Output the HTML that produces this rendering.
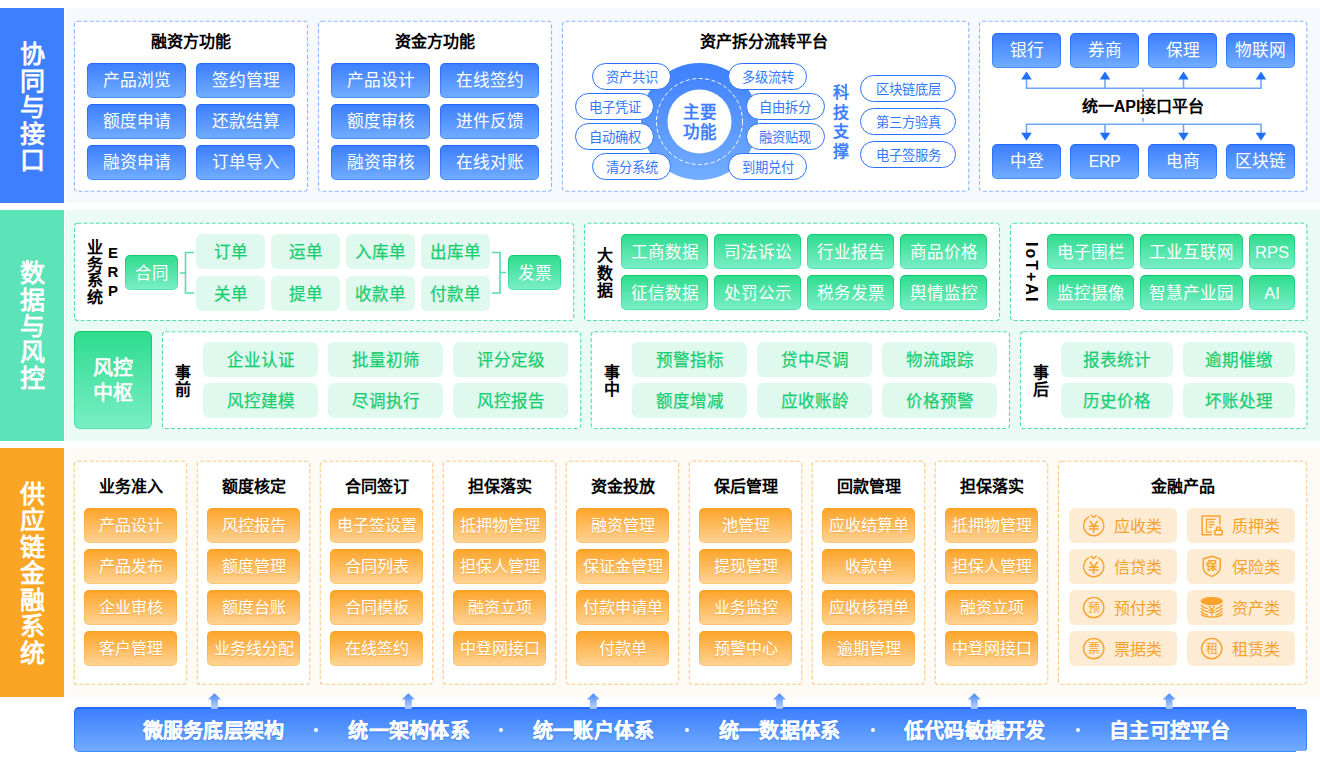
<!DOCTYPE html>
<html lang="zh-CN"><head><meta charset="utf-8"><title>供应链金融系统架构</title>
<style>
*{box-sizing:border-box;margin:0;padding:0}
html,body{width:1320px;height:764px;overflow:hidden;background:#fff}
body{position:relative;font-family:"Liberation Sans",sans-serif;color:#000}
.abs{position:absolute}
.band{position:absolute;left:65px;right:0}
.side{position:absolute;left:0;width:64px;color:#fff;font-weight:bold;font-size:25px;line-height:26.5px;padding-top:4px;display:flex;align-items:center;justify-content:center}
.side span{display:block;width:26px;text-align:center;word-break:break-all}
svg{position:absolute;left:0;top:0;overflow:visible}
.ttl{position:absolute;font-weight:bold;font-size:16px;line-height:20px;text-align:center;white-space:nowrap;color:#000}
.b{position:absolute;border-radius:5px;border:1px solid transparent;color:#fff;text-align:center;white-space:nowrap;overflow:hidden}
.bb{height:35px;line-height:34px;font-size:16.7px;background:linear-gradient(#3d7fff,#70acff) padding-box,linear-gradient(#1f69ff,#4690ff) border-box}
.gb{height:35px;line-height:35px;font-size:16.5px;background:linear-gradient(#2fdc8e,#79eec6) padding-box,linear-gradient(#0fca69,#55e5b0) border-box}
.lg{position:absolute;height:35px;line-height:36px;font-size:16.5px;border-radius:6px;background:#dff9ef;color:#17cd70;-webkit-text-stroke:.25px #17cd70;text-align:center;white-space:nowrap}
.ob{height:35px;line-height:33px;font-size:16px;background:linear-gradient(#fda52b,#fdd292) padding-box,linear-gradient(#fb9f1f,#fdc878) border-box;text-shadow:0 1px 1px rgba(235,140,20,.45)}
.pill{position:absolute;height:27px;line-height:27px;border:1px solid #2b71ff;border-radius:14px;background:#fff;color:#3278ff;font-size:13.3px;overflow:hidden;text-align:center;white-space:nowrap}
.vt{position:absolute;font-weight:bold;text-align:center;word-break:break-all;color:#000}
.fp{position:absolute;height:35px;border-radius:6px;background:#feebd3;color:#f5a22c;font-size:16px;line-height:37px;white-space:nowrap}
.fp span{position:absolute;left:45px;top:0}
.bar{position:absolute;color:#fff;font-weight:bold;font-size:20px;line-height:28px;white-space:nowrap;letter-spacing:.3px;-webkit-text-stroke:.3px #fff;text-shadow:0 1px 2px rgba(30,90,230,.45)}
</style></head><body>
<div class="band" style="top:8px;height:195px;background:#f6faff"></div>
<div class="side" style="top:8px;height:195px;background:#3d7fff"><span>协同与接口</span></div>
<svg width="1320" height="764">
<rect x="74.50" y="21.25" width="233.00" height="170.00" rx="3" fill="#fff" stroke="#8fb7ff" stroke-width="1.1" stroke-dasharray="4 2.1"/>
<rect x="318.50" y="21.25" width="233.00" height="170.00" rx="3" fill="#fff" stroke="#8fb7ff" stroke-width="1.1" stroke-dasharray="4 2.1"/>
<rect x="562.50" y="21.25" width="406.25" height="170.00" rx="3" fill="#fff" stroke="#8fb7ff" stroke-width="1.1" stroke-dasharray="4 2.1"/>
<rect x="979.50" y="21.25" width="327.25" height="170.00" rx="3" fill="#fff" stroke="#8fb7ff" stroke-width="1.1" stroke-dasharray="4 2.1"/>
</svg>
<div class="ttl" style="left:74px;width:234px;top:32px">融资方功能</div>
<div class="b bb" style="left:87px;top:63px;width:99px">产品浏览</div>
<div class="b bb" style="left:196px;top:63px;width:99px">签约管理</div>
<div class="b bb" style="left:87px;top:104px;width:99px">额度申请</div>
<div class="b bb" style="left:196px;top:104px;width:99px">还款结算</div>
<div class="b bb" style="left:87px;top:145px;width:99px">融资申请</div>
<div class="b bb" style="left:196px;top:145px;width:99px">订单导入</div>
<div class="ttl" style="left:318px;width:234px;top:32px">资金方功能</div>
<div class="b bb" style="left:331px;top:63px;width:99px">产品设计</div>
<div class="b bb" style="left:440px;top:63px;width:99px">在线签约</div>
<div class="b bb" style="left:331px;top:104px;width:99px">额度审核</div>
<div class="b bb" style="left:440px;top:104px;width:99px">进件反馈</div>
<div class="b bb" style="left:331px;top:145px;width:99px">融资审核</div>
<div class="b bb" style="left:440px;top:145px;width:99px">在线对账</div>
<div class="ttl" style="left:664px;width:200px;top:32px">资产拆分流转平台</div>
<svg width="1320" height="764"><defs><linearGradient id="gw" x1="0" y1="0" x2="0" y2="1"><stop offset="0" stop-color="#3d7fff"/><stop offset="1" stop-color="#73aeff"/></linearGradient></defs><circle cx="699.5" cy="121.5" r="58.5" fill="url(#gw)"/><circle cx="699.5" cy="121.5" r="43" fill="none" stroke="#fff" stroke-width="1" stroke-dasharray="4 2.5"/><circle cx="699.5" cy="121.5" r="32" fill="#fff"/></svg>
<div class="abs" style="left:667px;top:103px;width:65px;text-align:center;font-weight:bold;font-size:16.5px;line-height:19.5px;color:#3d7fff">主要<br>功能</div>
<div class="pill" style="left:592px;top:63px;width:79px">资产共识</div>
<div class="pill" style="left:575px;top:93px;width:79px">电子凭证</div>
<div class="pill" style="left:575px;top:123px;width:79px">自动确权</div>
<div class="pill" style="left:592px;top:153px;width:79px">清分系统</div>
<div class="pill" style="left:728px;top:63px;width:79px">多级流转</div>
<div class="pill" style="left:745.5px;top:93px;width:79px">自由拆分</div>
<div class="pill" style="left:745.5px;top:123px;width:79px">融资贴现</div>
<div class="pill" style="left:728px;top:153px;width:79px">到期兑付</div>
<div class="vt" style="left:833px;top:83px;width:16px;font-size:16px;line-height:19.5px;color:#3d7fff">科技支撑</div>
<div class="pill" style="left:860px;top:75px;width:96px">区块链底层</div>
<div class="pill" style="left:860px;top:108px;width:96px">第三方验真</div>
<div class="pill" style="left:860px;top:141px;width:96px">电子签服务</div>
<div class="b bb" style="left:992px;top:33px;width:69px">银行</div>
<div class="b bb" style="left:1070px;top:33px;width:69px">券商</div>
<div class="b bb" style="left:1148px;top:33px;width:69px">保理</div>
<div class="b bb" style="left:1226px;top:33px;width:69px">物联网</div>
<div class="b bb" style="left:992px;top:144px;width:69px">中登</div>
<div class="b bb" style="left:1070px;top:144px;width:69px"><span style="font-size:16px;letter-spacing:-.4px">ERP</span></div>
<div class="b bb" style="left:1148px;top:144px;width:69px">电商</div>
<div class="b bb" style="left:1226px;top:144px;width:69px">区块链</div>
<svg width="1320" height="764"><path d="M1026.5 79V88.25H1261V79M1105 79V88.25M1183.5 79V88.25M1026.5 133V124.25H1261V133M1105 133V124.25M1183.5 133V124.25" fill="none" stroke="#6ea6ff" stroke-width="1.6"/><path d="M1143 88V124" fill="none" stroke="#6ea6ff" stroke-width="1.4" stroke-dasharray="4 2"/><path d="M1026.5 71.5l5.3 8h-10.6z" fill="#1f6fff"/><path d="M1026.5 140.8l5.3-8h-10.6z" fill="#1f6fff"/><path d="M1105 71.5l5.3 8h-10.6z" fill="#1f6fff"/><path d="M1105 140.8l5.3-8h-10.6z" fill="#1f6fff"/><path d="M1183.5 71.5l5.3 8h-10.6z" fill="#1f6fff"/><path d="M1183.5 140.8l5.3-8h-10.6z" fill="#1f6fff"/><path d="M1261 71.5l5.3 8h-10.6z" fill="#1f6fff"/><path d="M1261 140.8l5.3-8h-10.6z" fill="#1f6fff"/></svg>
<div class="ttl" style="left:1078px;width:130px;top:97px;background:#fff">统一API接口平台</div>
<div class="band" style="top:210px;height:231px;background:#eafbf5"></div>
<div class="side" style="top:210px;height:231px;padding-top:1px;line-height:26.3px;background:#5ce3b8"><span>数据与风控</span></div>
<svg width="1320" height="764">
<rect x="74.50" y="223.25" width="499.25" height="97.25" rx="3" fill="#fff" stroke="#54ddb0" stroke-width="1.1" stroke-dasharray="4 2.1"/>
<rect x="584.50" y="223.25" width="415.00" height="97.25" rx="3" fill="#fff" stroke="#54ddb0" stroke-width="1.1" stroke-dasharray="4 2.1"/>
<rect x="1010.50" y="223.25" width="296.50" height="97.25" rx="3" fill="#fff" stroke="#54ddb0" stroke-width="1.1" stroke-dasharray="4 2.1"/>
<rect x="162.50" y="331.75" width="418.25" height="96.75" rx="3" fill="#fff" stroke="#54ddb0" stroke-width="1.1" stroke-dasharray="4 2.1"/>
<rect x="591.25" y="331.75" width="418.25" height="96.75" rx="3" fill="#fff" stroke="#54ddb0" stroke-width="1.1" stroke-dasharray="4 2.1"/>
<rect x="1020.50" y="331.75" width="286.50" height="96.75" rx="3" fill="#fff" stroke="#54ddb0" stroke-width="1.1" stroke-dasharray="4 2.1"/>
<path d="M180 273H185.5M194 252.5H185.5V293H194" fill="none" stroke="#54ddb0" stroke-width="1.6"/>
<path d="M492 252.5H500V293H492M500 272.5H506" fill="none" stroke="#54ddb0" stroke-width="1.6"/>
</svg>
<div class="vt" style="left:87px;top:240px;width:16px;font-size:16px;line-height:16.6px">业务系统</div>
<div class="vt" style="left:105px;top:244px;width:16px;font-size:15px;line-height:18.8px">ERP</div>
<div class="b gb" style="left:125px;top:255px;width:53px">合同</div>
<div class="lg" style="left:196px;top:234px;width:69px">订单</div>
<div class="lg" style="left:271px;top:234px;width:69px">运单</div>
<div class="lg" style="left:346px;top:234px;width:69px">入库单</div>
<div class="lg" style="left:421px;top:234px;width:69px">出库单</div>
<div class="lg" style="left:196px;top:276px;width:69px">关单</div>
<div class="lg" style="left:271px;top:276px;width:69px">提单</div>
<div class="lg" style="left:346px;top:276px;width:69px">收款单</div>
<div class="lg" style="left:421px;top:276px;width:69px">付款单</div>
<div class="b gb" style="left:508px;top:255px;width:53px">发票</div>
<div class="vt" style="left:597px;top:247px;width:16px;font-size:16px;line-height:17.5px">大数据</div>
<div class="b gb" style="left:621px;top:234px;width:87px">工商数据</div>
<div class="b gb" style="left:714px;top:234px;width:87px">司法诉讼</div>
<div class="b gb" style="left:807px;top:234px;width:87px">行业报告</div>
<div class="b gb" style="left:900px;top:234px;width:87px">商品价格</div>
<div class="b gb" style="left:621px;top:275px;width:87px">征信数据</div>
<div class="b gb" style="left:714px;top:275px;width:87px">处罚公示</div>
<div class="b gb" style="left:807px;top:275px;width:87px">税务发票</div>
<div class="b gb" style="left:900px;top:275px;width:87px">舆情监控</div>
<div class="abs" style="left:1001px;top:262px;width:60px;height:20px;line-height:20px;text-align:center;font-weight:bold;font-size:16px;letter-spacing:2px;transform:rotate(90deg);white-space:nowrap">IoT+AI</div>
<div class="b gb" style="left:1047px;top:234px;width:87px">电子围栏</div>
<div class="b gb" style="left:1140px;top:234px;width:103px">工业互联网</div>
<div class="b gb" style="left:1249px;top:234px;width:46px">RPS</div>
<div class="b gb" style="left:1047px;top:275px;width:87px">监控摄像</div>
<div class="b gb" style="left:1140px;top:275px;width:103px">智慧产业园</div>
<div class="b gb" style="left:1249px;top:275px;width:46px">AI</div>
<div class="b" style="left:74px;top:331px;width:78px;height:98px;border-radius:6px;font-weight:bold;font-size:20px;line-height:24.5px;padding-top:24px;background:linear-gradient(#2fdc8e,#79eec6) padding-box,linear-gradient(#0fca69,#55e5b0) border-box">风控<br>中枢</div>
<div class="vt" style="left:175px;top:364px;width:16px;font-size:16px;line-height:17px">事前</div>
<div class="lg" style="left:203px;top:342px;width:115px">企业认证</div>
<div class="lg" style="left:328px;top:342px;width:115px">批量初筛</div>
<div class="lg" style="left:453px;top:342px;width:115px">评分定级</div>
<div class="lg" style="left:203px;top:383px;width:115px">风控建模</div>
<div class="lg" style="left:328px;top:383px;width:115px">尽调执行</div>
<div class="lg" style="left:453px;top:383px;width:115px">风控报告</div>
<div class="vt" style="left:604px;top:364px;width:16px;font-size:16px;line-height:17px">事中</div>
<div class="lg" style="left:632px;top:342px;width:115px">预警指标</div>
<div class="lg" style="left:757px;top:342px;width:115px">贷中尽调</div>
<div class="lg" style="left:882px;top:342px;width:115px">物流跟踪</div>
<div class="lg" style="left:632px;top:383px;width:115px">额度增减</div>
<div class="lg" style="left:757px;top:383px;width:115px">应收账龄</div>
<div class="lg" style="left:882px;top:383px;width:115px">价格预警</div>
<div class="vt" style="left:1033px;top:364px;width:16px;font-size:16px;line-height:17px">事后</div>
<div class="lg" style="left:1061px;top:342px;width:112px">报表统计</div>
<div class="lg" style="left:1183px;top:342px;width:112px">逾期催缴</div>
<div class="lg" style="left:1061px;top:383px;width:112px">历史价格</div>
<div class="lg" style="left:1183px;top:383px;width:112px">坏账处理</div>
<div class="band" style="top:448px;height:249px;background:#fefbf6"></div>
<div class="side" style="top:448px;height:249px;padding-top:2px;line-height:26.4px;background:#fba524"><span>供应链金融系统</span></div>
<svg width="1320" height="764">
<rect x="74.25" y="461.25" width="112.50" height="223.00" rx="3" fill="#fff" stroke="#fdc885" stroke-width="1.1" stroke-dasharray="4 2.1"/>
<rect x="197.25" y="461.25" width="112.50" height="223.00" rx="3" fill="#fff" stroke="#fdc885" stroke-width="1.1" stroke-dasharray="4 2.1"/>
<rect x="320.25" y="461.25" width="112.50" height="223.00" rx="3" fill="#fff" stroke="#fdc885" stroke-width="1.1" stroke-dasharray="4 2.1"/>
<rect x="443.25" y="461.25" width="112.50" height="223.00" rx="3" fill="#fff" stroke="#fdc885" stroke-width="1.1" stroke-dasharray="4 2.1"/>
<rect x="566.25" y="461.25" width="112.50" height="223.00" rx="3" fill="#fff" stroke="#fdc885" stroke-width="1.1" stroke-dasharray="4 2.1"/>
<rect x="689.25" y="461.25" width="112.50" height="223.00" rx="3" fill="#fff" stroke="#fdc885" stroke-width="1.1" stroke-dasharray="4 2.1"/>
<rect x="812.25" y="461.25" width="112.50" height="223.00" rx="3" fill="#fff" stroke="#fdc885" stroke-width="1.1" stroke-dasharray="4 2.1"/>
<rect x="935.25" y="461.25" width="112.50" height="223.00" rx="3" fill="#fff" stroke="#fdc885" stroke-width="1.1" stroke-dasharray="4 2.1"/>
<rect x="1058.50" y="461.25" width="248.25" height="223.00" rx="3" fill="#fff" stroke="#fdc885" stroke-width="1.1" stroke-dasharray="4 2.1"/>
</svg>
<div class="ttl" style="left:74px;width:113px;top:477px">业务准入</div>
<div class="b ob" style="left:84px;top:508px;width:93px">产品设计</div>
<div class="b ob" style="left:84px;top:549px;width:93px">产品发布</div>
<div class="b ob" style="left:84px;top:590px;width:93px">企业审核</div>
<div class="b ob" style="left:84px;top:631px;width:93px">客户管理</div>
<div class="ttl" style="left:197px;width:113px;top:477px">额度核定</div>
<div class="b ob" style="left:207px;top:508px;width:93px">风控报告</div>
<div class="b ob" style="left:207px;top:549px;width:93px">额度管理</div>
<div class="b ob" style="left:207px;top:590px;width:93px">额度台账</div>
<div class="b ob" style="left:207px;top:631px;width:93px">业务线分配</div>
<div class="ttl" style="left:320px;width:113px;top:477px">合同签订</div>
<div class="b ob" style="left:330px;top:508px;width:93px">电子签设置</div>
<div class="b ob" style="left:330px;top:549px;width:93px">合同列表</div>
<div class="b ob" style="left:330px;top:590px;width:93px">合同模板</div>
<div class="b ob" style="left:330px;top:631px;width:93px">在线签约</div>
<div class="ttl" style="left:443px;width:113px;top:477px">担保落实</div>
<div class="b ob" style="left:453px;top:508px;width:93px">抵押物管理</div>
<div class="b ob" style="left:453px;top:549px;width:93px">担保人管理</div>
<div class="b ob" style="left:453px;top:590px;width:93px">融资立项</div>
<div class="b ob" style="left:453px;top:631px;width:93px">中登网接口</div>
<div class="ttl" style="left:566px;width:113px;top:477px">资金投放</div>
<div class="b ob" style="left:576px;top:508px;width:93px">融资管理</div>
<div class="b ob" style="left:576px;top:549px;width:93px">保证金管理</div>
<div class="b ob" style="left:576px;top:590px;width:93px">付款申请单</div>
<div class="b ob" style="left:576px;top:631px;width:93px">付款单</div>
<div class="ttl" style="left:689px;width:113px;top:477px">保后管理</div>
<div class="b ob" style="left:699px;top:508px;width:93px">池管理</div>
<div class="b ob" style="left:699px;top:549px;width:93px">提现管理</div>
<div class="b ob" style="left:699px;top:590px;width:93px">业务监控</div>
<div class="b ob" style="left:699px;top:631px;width:93px">预警中心</div>
<div class="ttl" style="left:812px;width:113px;top:477px">回款管理</div>
<div class="b ob" style="left:822px;top:508px;width:93px">应收结算单</div>
<div class="b ob" style="left:822px;top:549px;width:93px">收款单</div>
<div class="b ob" style="left:822px;top:590px;width:93px">应收核销单</div>
<div class="b ob" style="left:822px;top:631px;width:93px">逾期管理</div>
<div class="ttl" style="left:935px;width:113px;top:477px">担保落实</div>
<div class="b ob" style="left:945px;top:508px;width:93px">抵押物管理</div>
<div class="b ob" style="left:945px;top:549px;width:93px">担保人管理</div>
<div class="b ob" style="left:945px;top:590px;width:93px">融资立项</div>
<div class="b ob" style="left:945px;top:631px;width:93px">中登网接口</div>
<div class="ttl" style="left:1058px;width:249px;top:477px">金融产品</div>
<div class="fp" style="left:1069px;top:508px;width:108px"><span>应收类</span></div>
<div class="fp" style="left:1187px;top:508px;width:108px"><span>质押类</span></div>
<div class="fp" style="left:1069px;top:549px;width:108px"><span>信贷类</span></div>
<div class="fp" style="left:1187px;top:549px;width:108px"><span>保险类</span></div>
<div class="fp" style="left:1069px;top:590px;width:108px"><span>预付类</span></div>
<div class="fp" style="left:1187px;top:590px;width:108px"><span>资产类</span></div>
<div class="fp" style="left:1069px;top:631px;width:108px"><span>票据类</span></div>
<div class="fp" style="left:1187px;top:631px;width:108px"><span>租赁类</span></div>
<svg width="1320" height="764"><g transform="translate(1093.7 525.6)" fill="none" stroke="#f7a32c" stroke-width="1.4" stroke-linecap="round" stroke-linejoin="round"><path d="M-5 -8.8A10.1 10.1 0 1 0 5 -8.8"/><path d="M-2.6 -10.4L0 -8L2.6 -10.4"/><path d="M-3.6 -4.3L0 0.6L3.6 -4.3M0 0.6V6.7M-4.3 0.6H4.3M-4.3 3.3H4.3" stroke-width="1.5"/></g><g transform="translate(1211.7 525.6)" fill="none" stroke="#f7a32c" stroke-width="1.5" stroke-linejoin="round"><path d="M8.2 -1.2V-9.7H-9.6V9.2H0.4"/><path d="M3.9 -6.2H-5.2V6.6H0.4M-3 -3.4H2.7M-3 -0.9H2.7M-3 1.6H0.6" stroke-width="1.2"/><rect x="3.1" y="4.6" width="7.4" height="4.6" rx="0.8" stroke-width="1.5"/><path d="M4.9 4.6V3A1.9 1.9 0 0 1 8.7 3V4.6" stroke-width="1.4"/></g><g transform="translate(1093.7 566.6)" fill="none" stroke="#f7a32c" stroke-width="1.4" stroke-linecap="round" stroke-linejoin="round"><path d="M-5 -8.8A10.1 10.1 0 1 0 5 -8.8"/><path d="M-2.6 -10.4L0 -8L2.6 -10.4"/><path d="M-3.6 -4.3L0 0.6L3.6 -4.3M0 0.6V6.7M-4.3 0.6H4.3M-4.3 3.3H4.3" stroke-width="1.5"/></g><g transform="translate(1211.7 566.6)"><path d="M0 -10.3L8.5 -7.6V0.6C8.5 5.4 4.4 8.2 0 9.9C-4.4 8.2 -8.5 5.4 -8.5 0.6V-7.6Z" fill="none" stroke="#f7a32c" stroke-width="1.5" stroke-linejoin="round"/><text x="0" y="3" text-anchor="middle" font-size="11" font-weight="bold" fill="#f7a32c" font-family="Liberation Sans,sans-serif">保</text></g><g transform="translate(1093.7 607.6)"><circle r="10.2" fill="none" stroke="#f7a32c" stroke-width="1.4"/><text x="0" y="4.3" text-anchor="middle" font-size="12" fill="#f7a32c" font-family="Liberation Sans,sans-serif">预</text></g><g transform="translate(1211.7 607.6)" fill="none" stroke="#f7a32c" stroke-width="1.4" stroke-linecap="round"><ellipse cx="0" cy="-6.5" rx="10.4" ry="3.5" fill="#f7a32c"/><path d="M-10.4 -2.4C-9 -0.4 -6.6 0.6 -4.4 1M10.4 -2.4C9 -0.4 6.6 0.6 4.4 1M-10.4 0.8C-9 2.8 -6.6 3.8 -4.4 4.2M10.4 0.8C9 2.8 6.6 3.8 4.4 4.2M-10.4 4C-9 6 -6.6 7 -4.4 7.4M10.4 4C9 6 6.6 7 4.4 7.4M-10.4 6.8C-7 10.2 7 10.2 10.4 6.8"/><path d="M-2.6 -1.4L0 2L2.6 -1.4M0 2V7.4M-2.8 2.6H2.8M-2.8 4.8H2.8" stroke-width="1.3"/></g><g transform="translate(1093.7 648.6)"><circle r="10.2" fill="none" stroke="#f7a32c" stroke-width="1.4"/><text x="0" y="4.3" text-anchor="middle" font-size="12" fill="#f7a32c" font-family="Liberation Sans,sans-serif">票</text></g><g transform="translate(1211.7 648.6)"><circle r="10.2" fill="none" stroke="#f7a32c" stroke-width="1.4"/><text x="0" y="4.3" text-anchor="middle" font-size="12" fill="#f7a32c" font-family="Liberation Sans,sans-serif">租</text></g></svg>
<div class="abs" style="left:74px;top:707px;width:1222px;height:45px;border-radius:5px 0 0 5px;border:1px solid transparent;border-top-width:2px;border-right-width:0;background:linear-gradient(#3d7fff,#70acff) padding-box,linear-gradient(#2468ff,#3f8aff) border-box"></div>
<div class="abs" style="left:1296px;top:709px;width:11px;height:42px;border-radius:0 3px 3px 0;border-right:1px solid #3580ff;background:linear-gradient(#3d7fff,#70acff)"></div>
<div class="bar" style="left:142.5px;top:717px">微服务底层架构</div>
<div class="bar" style="left:348.3px;top:717px">统一架构体系</div>
<div class="bar" style="left:532.7px;top:717px">统一账户体系</div>
<div class="bar" style="left:718.7px;top:717px">统一数据体系</div>
<div class="bar" style="left:903.7px;top:717px">低代码敏捷开发</div>
<div class="bar" style="left:1109px;top:717px">自主可控平台</div>
<div class="abs" style="left:314px;top:728px;width:4px;height:4px;border-radius:50%;background:#fff"></div>
<div class="abs" style="left:498.7px;top:728px;width:4px;height:4px;border-radius:50%;background:#fff"></div>
<div class="abs" style="left:684.7px;top:728px;width:4px;height:4px;border-radius:50%;background:#fff"></div>
<div class="abs" style="left:871px;top:728px;width:4px;height:4px;border-radius:50%;background:#fff"></div>
<div class="abs" style="left:1076px;top:728px;width:4px;height:4px;border-radius:50%;background:#fff"></div>
<svg width="1320" height="764"><defs><linearGradient id="ga" x1="0" y1="0" x2="0" y2="1"><stop offset="0" stop-color="#4a88ff"/><stop offset="1" stop-color="#b9d3ff"/></linearGradient></defs><path d="M214.5 693.3l6.6 6.2h-3.2v9.2h-6.8v-9.2h-3.2z" fill="url(#ga)"/><path d="M408.3 693.3l6.6 6.2h-3.2v9.2h-6.8v-9.2h-3.2z" fill="url(#ga)"/><path d="M593.3 693.3l6.6 6.2h-3.2v9.2h-6.8v-9.2h-3.2z" fill="url(#ga)"/><path d="M779.5 693.3l6.6 6.2h-3.2v9.2h-6.8v-9.2h-3.2z" fill="url(#ga)"/><path d="M974.25 693.3l6.6 6.2h-3.2v9.2h-6.8v-9.2h-3.2z" fill="url(#ga)"/><path d="M1169.2 693.3l6.6 6.2h-3.2v9.2h-6.8v-9.2h-3.2z" fill="url(#ga)"/></svg>
</body></html>
